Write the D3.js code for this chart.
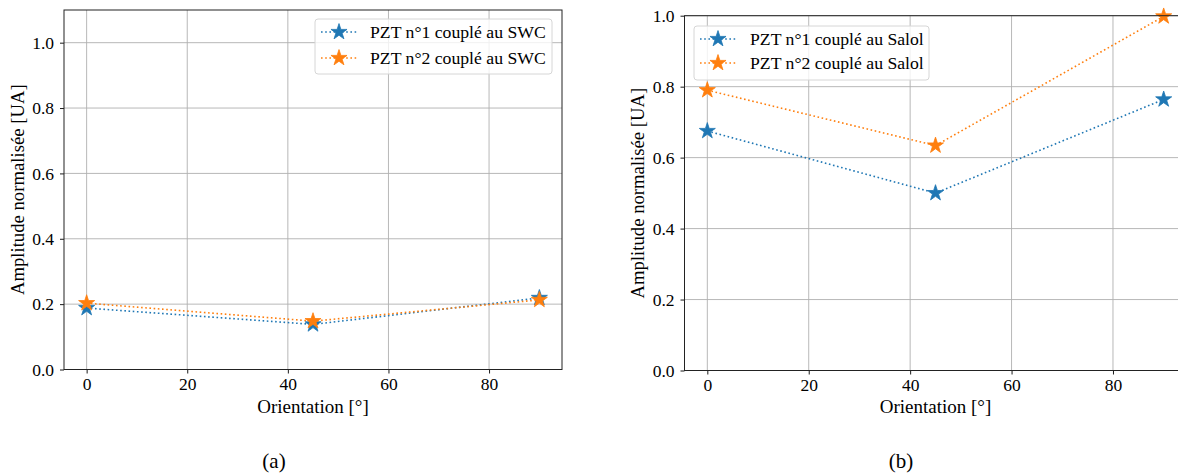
<!DOCTYPE html>
<html><head><meta charset="utf-8">
<script src="https://cdn.jsdelivr.net/npm/d3@7"></script>
<style>body{margin:0;background:#fff}svg{display:block}.tk text{font-size:17.5px}</style>
</head><body><svg id="c" width="1178" height="476"></svg>
<script>
const orientations = [0, 45, 90];
const swcPZT1 = [0.188, 0.138, 0.219];
const swcPZT2 = [0.203, 0.148, 0.213];
const salolPZT1 = [0.675, 0.500, 0.764];
const salolPZT2 = [0.790, 0.634, 0.998];
const xTicks = [0, 20, 40, 60, 80];
const yTicks = [0, 0.2, 0.4, 0.6, 0.8, 1.0];
const labelsA = ["PZT n°1 couplé au SWC", "PZT n°2 couplé au SWC"];
const labelsB = ["PZT n°1 couplé au Salol", "PZT n°2 couplé au Salol"];
const colors = ["#1f77b4", "#ff7f0e"];
const FONT = "'Liberation Serif', 'Times New Roman', Times, 'DejaVu Serif', serif";

const svg = d3.select("#c").attr("font-family", FONT);
const star = d3.symbol().type(d3.symbolStar).size(80);

function panel(o) {
  const g = svg.append("g");
  const x = d3.scaleLinear().domain([-4.5, 94.5]).range([o.x0, o.x1]);
  const y = d3.scaleLinear().domain([0, o.ymax]).range([o.y0, o.y1]);
  g.selectAll(".gx").data(xTicks).join("line")
    .attr("x1", d => x(d)).attr("x2", d => x(d)).attr("y1", o.y0).attr("y2", o.y1)
    .attr("stroke", "#b0b0b0").attr("stroke-width", 0.9);
  g.selectAll(".gy").data(yTicks).join("line")
    .attr("x1", o.x0).attr("x2", o.x1).attr("y1", d => y(d)).attr("y2", d => y(d))
    .attr("stroke", "#b0b0b0").attr("stroke-width", 0.9);
  const ax = d3.axisBottom(x).tickValues(xTicks).tickSize(4).tickPadding(4).tickFormat(d3.format("d"));
  const ay = d3.axisLeft(y).tickValues(yTicks).tickSize(4).tickPadding(6).tickFormat(d3.format(".1f"));
  const gx = g.append("g").attr("class", "tk").attr("transform", `translate(0,${o.y0})`).call(ax);
  const gy = g.append("g").attr("class", "tk").attr("transform", `translate(${o.x0},0)`).call(ay);
  [gx, gy].forEach(a => {
    a.attr("font-family", FONT).attr("font-size", 17.5);
    a.select(".domain").remove();
    a.selectAll(".tick text").attr("font-size", 17.5).attr("fill", "#000");
    a.selectAll(".tick line").attr("stroke", "#000").attr("stroke-width", 0.9);
  });
  const line = d3.line().x((d, i) => x(orientations[i])).y(d => y(d));
  o.series.forEach((s, k) => {
    g.append("path").attr("d", line(s)).attr("fill", "none")
      .attr("stroke", colors[k]).attr("stroke-width", 1.6).attr("stroke-dasharray", "1.6,2.6");
    g.selectAll(null).data(s).join("path")
      .attr("transform", (d, i) => `translate(${x(orientations[i])},${y(d)})`)
      .attr("d", star).attr("fill", colors[k]).attr("stroke", colors[k]).attr("stroke-width", 0.8);
  });
  g.append("rect").attr("x", o.x0).attr("y", o.y1).attr("width", o.x1 - o.x0).attr("height", o.y0 - o.y1)
    .attr("fill", "none").attr("stroke", "#222").attr("stroke-width", 1);
  g.append("text").attr("transform", `translate(${o.ylabX},${(o.y0 + o.y1) / 2}) rotate(-90)`)
    .attr("text-anchor", "middle").attr("dominant-baseline", "central")
    .style("font-family", FONT).style("font-size", "18.7px")
    .text("Amplitude normalisée [UA]");
  g.append("text").attr("x", (o.x0 + o.x1) / 2).attr("y", 413).attr("text-anchor", "middle")
    .style("font-family", FONT).style("font-size", "19px").text("Orientation [°]");
  g.append("text").attr("x", o.capX).attr("y", 468).attr("text-anchor", "middle")
    .style("font-family", FONT).style("font-size", "21px").text(o.cap);
  const L = o.leg;
  g.append("rect").attr("x", L.x).attr("y", L.y).attr("width", L.w).attr("height", L.h).attr("rx", 3)
    .attr("fill", "rgba(255,255,255,0.8)").attr("stroke", "#d6d6d6").attr("stroke-width", 1);
  o.labels.forEach((t, k) => {
    const yy = L.y + L.r0 + k * L.dy;
    g.append("line").attr("x1", L.x + 6).attr("x2", L.x + 42).attr("y1", yy).attr("y2", yy)
      .attr("stroke", colors[k]).attr("stroke-width", 1.6).attr("stroke-dasharray", "1.6,2.6");
    g.append("path").attr("transform", `translate(${L.x + 24},${yy})`).attr("d", star)
      .attr("fill", colors[k]).attr("stroke", colors[k]).attr("stroke-width", 0.8);
    g.append("text").attr("x", L.x + L.tx).attr("y", yy).attr("dominant-baseline", "central")
      .style("font-family", FONT).style("font-size", "17.7px").text(t);
  });
}

panel({x0: 64, x1: 562, y0: 369.5, y1: 10, ymax: 1.1, series: [swcPZT1, swcPZT2],
  labels: labelsA, ylabX: 17, cap: "(a)", capX: 274,
  leg: {x: 315, y: 19, w: 237, h: 55, r0: 13, dy: 26, tx: 55}});
panel({x0: 684.5, x1: 1186.5, y0: 370.5, y1: 15.7, ymax: 1.0, series: [salolPZT1, salolPZT2],
  labels: labelsB, ylabX: 637, cap: "(b)", capX: 901,
  leg: {x: 694, y: 26, w: 235, h: 54, r0: 13, dy: 24, tx: 56}});
</script></body></html>
